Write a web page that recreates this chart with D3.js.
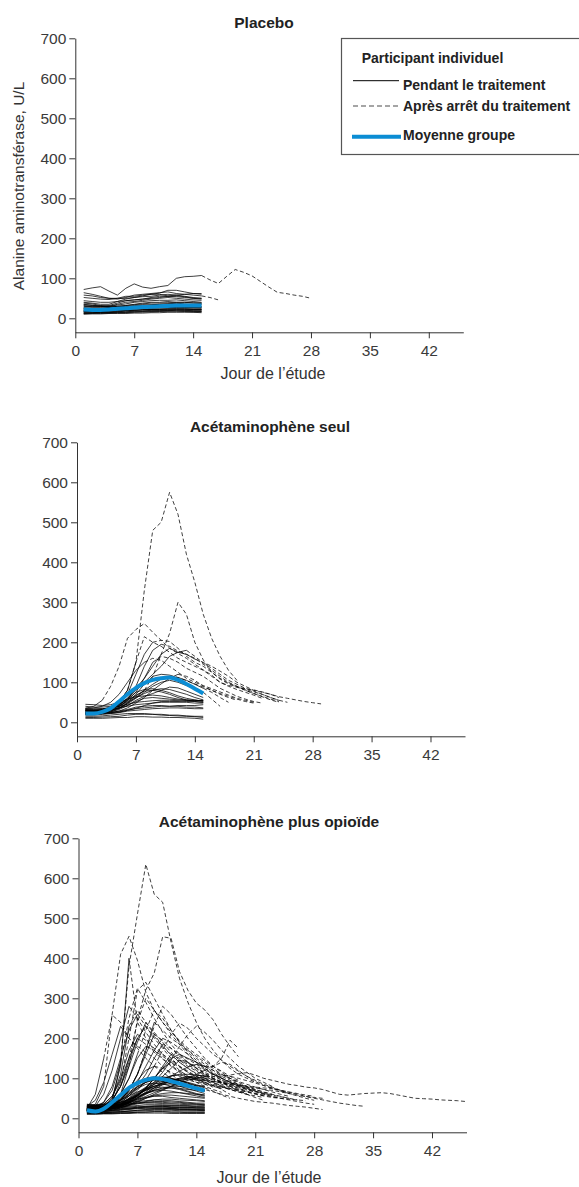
<!DOCTYPE html>
<html>
<head>
<meta charset="utf-8">
<script src="https://cdnjs.cloudflare.com/ajax/libs/d3/7.8.5/d3.min.js"></script>
<style>
  body { margin: 0; background: #fff; }
  svg { display: block; }
  text { font-family: "Liberation Sans", Arial, Helvetica, sans-serif; }
</style>
</head>
<body>
<div class="root"></div>
<script>
// axis ticks
const xTicks = [0, 7, 14, 21, 28, 35, 42];
const yTicks = [0, 100, 200, 300, 400, 500, 600, 700];

const titles = ['Placebo', 'Acétaminophène seul', 'Acétaminophène plus opioïde'];

// group means, days 1..15
const placeboMean = [22, 21, 21, 22, 24, 25, 27, 28, 29, 30, 31, 32, 32, 32, 32];
const acetMean = [22, 22, 26, 35, 52, 70, 86, 98, 106, 110, 112, 106, 96, 84, 72];
const comboMean = [20, 17, 24, 40, 58, 76, 88, 96, 100, 98, 93, 87, 81, 75, 69];

// individual participants: [last day on treatment, ALT from day 1 onward]
const placeboLines = [
  [15, [72, 76, 79, 68, 58, 75, 86, 78, 75, 79, 82, 100, 104, 105, 107, 96, 87, 105, 122, 115, 106, 92, 78, 65, 62, 58, 55, 50]],
  [15, [64, 60, 55, 50, 48, 52, 58, 60, 62, 64, 66, 62, 60, 58, 56, 52, 46]],
  [15, [58, 56, 52, 50, 50, 50, 52, 56, 60, 63, 70, 70, 66, 62, 60]],
  [15, [52, 50, 48, 47, 50, 55, 55, 58, 60, 60, 56, 58, 60, 62, 62]],
  [15, [40, 38, 35, 35, 42, 48, 52, 54, 55, 58, 60, 58, 55, 52, 50]],
  [15, [35, 33, 30, 32, 38, 44, 46, 48, 52, 55, 55, 56, 54, 50, 48]],
  [15, [38, 36, 32, 30, 35, 40, 42, 45, 48, 50, 52, 50, 48, 46, 45]],
  [15, [30, 28, 28, 30, 33, 36, 40, 42, 44, 45, 45, 46, 44, 42, 40]],
  [15, [28, 30, 30, 28, 30, 32, 35, 38, 40, 40, 42, 40, 40, 38, 38]],
  [15, [25, 24, 22, 24, 26, 28, 30, 32, 34, 35, 36, 36, 35, 34, 34]],
  [15, [22, 22, 24, 25, 24, 26, 28, 30, 30, 32, 32, 33, 32, 30, 30]],
  [15, [20, 18, 18, 20, 22, 24, 26, 26, 28, 28, 30, 30, 28, 28, 28]],
  [15, [18, 20, 20, 20, 22, 22, 24, 24, 25, 26, 26, 27, 26, 26, 25]],
  [15, [16, 16, 17, 18, 18, 20, 20, 22, 22, 22, 24, 24, 24, 23, 22]],
  [15, [14, 14, 15, 15, 16, 16, 18, 18, 20, 20, 20, 21, 20, 20, 20]],
  [15, [12, 12, 12, 13, 14, 14, 15, 16, 16, 17, 18, 18, 18, 17, 17]],
  [15, [10, 11, 11, 12, 12, 12, 13, 13, 14, 14, 15, 15, 15, 15, 14]],
  [15, [32, 30, 30, 28, 28, 30, 32, 34, 33, 35, 36, 38, 36, 35, 36]],
  [15, [26, 26, 26, 27, 28, 28, 27, 28, 30, 30, 28, 29, 30, 28, 28]],
  [15, [19, 19, 20, 20, 20, 20, 21, 21, 22, 22, 22, 22, 22, 22, 21]],
  [15, [24, 22, 21, 22, 22, 24, 24, 26, 26, 26, 27, 28, 27, 26, 26]],
  [15, [15, 15, 14, 14, 16, 18, 18, 18, 19, 19, 19, 20, 20, 19, 18]],
  [15, [44, 42, 40, 40, 42, 44, 46, 48, 50, 52, 55, 54, 52, 50, 50]],
  [15, [12, 13, 14, 14, 14, 15, 16, 16, 17, 18, 18, 18, 17, 16, 16]],
  [15, [34, 32, 31, 30, 30, 32, 34, 36, 38, 38, 39, 40, 40, 39, 38]],
  [15, [17, 17, 16, 17, 18, 19, 20, 21, 22, 23, 23, 24, 23, 22, 22]]
];

const acetLines = [
  [15, [15, 15, 16, 18, 20, 22, 22, 22, 20, 20, 18, 18, 16, 15, 15]],
  [15, [12, 12, 13, 14, 15, 18, 20, 20, 20, 18, 17, 16, 15, 14, 12]],
  [15, [10, 10, 10, 11, 12, 12, 14, 14, 13, 13, 12, 12, 11, 10, 8]],
  [15, [20, 20, 21, 22, 24, 28, 30, 32, 34, 35, 36, 36, 35, 34, 34]],
  [15, [25, 24, 24, 25, 28, 32, 38, 40, 42, 42, 40, 40, 38, 38, 36]],
  [15, [30, 30, 30, 32, 36, 40, 44, 46, 48, 50, 50, 50, 50, 48, 48]],
  [15, [35, 34, 34, 36, 40, 45, 50, 52, 54, 55, 55, 54, 52, 52, 50]],
  [15, [18, 18, 20, 22, 25, 30, 34, 36, 38, 40, 40, 42, 42, 42, 44]],
  [15, [22, 22, 22, 24, 26, 30, 35, 42, 48, 52, 52, 52, 54, 54, 55]],
  [15, [28, 26, 28, 30, 36, 42, 52, 60, 62, 60, 58, 56, 55, 55, 54]],
  [15, [40, 38, 38, 40, 46, 55, 68, 78, 80, 76, 70, 62, 56, 52, 50]],
  [15, [32, 30, 30, 34, 44, 58, 75, 82, 84, 80, 74, 66, 60, 56, 52]],
  [15, [24, 24, 25, 28, 35, 48, 62, 72, 80, 84, 82, 76, 70, 62, 56]],
  [15, [45, 44, 42, 44, 50, 58, 64, 66, 68, 66, 62, 58, 56, 55, 54]],
  [15, [20, 20, 22, 26, 32, 42, 55, 65, 72, 80, 88, 86, 78, 70, 62]],
  [6, [30, 28, 30, 36, 50, 80, 150, 330, 480, 500, 575, 520, 420, 350, 270, 210, 165, 130, 105]],
  [8, [28, 28, 30, 34, 40, 50, 62, 80, 114, 170, 222, 300, 270, 200, 156, 125, 108, 96, 88, 80, 72, 64, 56, 50]],
  [3, [35, 40, 55, 90, 140, 210, 232, 247, 225, 205, 185, 172, 160, 145, 131, 118, 100, 92, 88, 84, 81, 76, 70, 64, 60, 56, 52, 49, 46]],
  [7, [30, 30, 32, 38, 50, 80, 150, 214, 200, 190, 175, 160, 150, 140, 130, 115, 100, 90, 82, 75, 68, 60]],
  [9, [25, 26, 28, 32, 45, 70, 120, 170, 200, 205, 202, 185, 165, 150, 140, 125, 110, 98, 90, 82, 76, 70, 62, 55, 50]],
  [10, [22, 22, 24, 28, 38, 55, 90, 140, 180, 195, 190, 178, 170, 160, 145, 130, 115, 100, 90, 80, 72, 65, 58, 52]],
  [13, [28, 28, 30, 34, 42, 60, 85, 110, 140, 170, 185, 175, 180, 165, 148, 135, 120, 105, 95, 85, 78, 70, 62, 55]],
  [14, [30, 30, 32, 35, 45, 60, 80, 100, 120, 140, 165, 175, 170, 158, 150, 140, 128, 115, 100, 90, 80, 75, 70, 62]],
  [11, [20, 20, 22, 26, 34, 48, 70, 95, 115, 120, 118, 112, 104, 96, 88, 80, 72, 65, 58, 52, 48]],
  [8, [35, 36, 40, 50, 70, 100, 130, 150, 160, 155, 140, 125, 110, 100, 92, 84, 76, 68, 60, 55, 50]],
  [9, [25, 25, 28, 32, 40, 55, 75, 110, 150, 165, 160, 150, 135, 125, 115, 100, 85, 75, 65, 58, 52, 48]],
  [15, [26, 26, 28, 30, 36, 46, 60, 75, 90, 100, 105, 100, 92, 84, 75, 58, 40]],
  [15, [32, 32, 34, 36, 42, 52, 66, 80, 95, 108, 115, 112, 105, 95, 85, 75, 62, 50]],
  [12, [22, 22, 22, 24, 28, 36, 48, 62, 80, 96, 110, 120, 115, 105, 90, 80, 70, 62, 55]]
];

const comboLines = [
  [15, [12, 12, 12, 13, 14, 14, 15, 15, 16, 16, 15, 15, 14, 14, 14]],
  [15, [15, 14, 14, 15, 16, 18, 18, 19, 20, 20, 20, 19, 18, 18, 18]],
  [15, [18, 18, 18, 20, 22, 24, 25, 26, 26, 26, 25, 24, 24, 23, 22]],
  [15, [20, 20, 22, 24, 26, 28, 30, 30, 30, 30, 28, 28, 28, 26, 26]],
  [15, [25, 24, 24, 26, 28, 30, 32, 34, 34, 34, 33, 32, 32, 30, 30]],
  [15, [28, 28, 28, 30, 33, 36, 38, 40, 40, 40, 38, 38, 36, 35, 34]],
  [15, [32, 30, 30, 32, 35, 40, 42, 44, 46, 45, 44, 42, 40, 38, 38]],
  [15, [10, 10, 11, 11, 12, 12, 13, 13, 13, 13, 12, 12, 12, 12, 12]],
  [15, [22, 22, 22, 24, 24, 26, 27, 28, 28, 28, 27, 27, 26, 26, 26]],
  [15, [16, 16, 17, 18, 20, 22, 24, 25, 25, 25, 24, 22, 22, 21, 20]],
  [15, [35, 32, 30, 32, 36, 42, 48, 52, 55, 55, 52, 50, 48, 46, 44]],
  [15, [26, 25, 25, 27, 30, 34, 38, 42, 46, 48, 48, 46, 45, 44, 42]],
  [15, [14, 14, 15, 16, 17, 18, 20, 21, 22, 22, 22, 21, 20, 20, 19]],
  [15, [30, 30, 31, 32, 34, 36, 38, 38, 38, 37, 36, 35, 34, 33, 32]],
  [15, [19, 19, 20, 21, 23, 25, 28, 30, 31, 32, 32, 31, 30, 29, 28]],
  [15, [11, 11, 12, 12, 13, 14, 15, 16, 17, 17, 16, 16, 15, 15, 15]],
  [15, [17, 17, 18, 19, 21, 23, 26, 28, 30, 30, 29, 28, 27, 26, 25]],
  [15, [24, 23, 23, 25, 28, 32, 36, 40, 42, 42, 41, 40, 38, 36, 35]],
  [15, [13, 13, 14, 15, 16, 18, 20, 22, 24, 24, 24, 23, 22, 22, 21]],
  [15, [21, 21, 22, 24, 28, 34, 42, 50, 56, 58, 58, 56, 54, 52, 50]],
  [15, [33, 33, 34, 36, 40, 46, 54, 62, 68, 70, 68, 64, 60, 56, 52]],
  [15, [20, 20, 22, 26, 34, 46, 60, 70, 76, 78, 76, 72, 66, 60, 55]],
  [15, [25, 24, 26, 32, 44, 60, 75, 85, 88, 86, 80, 74, 68, 62, 58]],
  [15, [18, 18, 20, 24, 30, 40, 52, 62, 70, 76, 80, 80, 78, 74, 70]],
  [15, [30, 28, 30, 36, 48, 65, 80, 90, 95, 92, 86, 80, 74, 68, 62]],
  [15, [22, 22, 24, 28, 36, 48, 62, 75, 85, 92, 96, 94, 90, 84, 78]],
  [15, [28, 28, 30, 34, 40, 48, 56, 64, 70, 74, 76, 75, 72, 70, 68]],
  [15, [15, 15, 16, 20, 26, 34, 44, 52, 58, 62, 64, 64, 62, 60, 58]],
  [15, [35, 34, 36, 42, 55, 72, 90, 100, 104, 100, 94, 88, 82, 76, 70]],
  [15, [24, 24, 26, 30, 38, 50, 64, 78, 90, 100, 106, 108, 104, 98, 90, 82, 72, 60]],
  [15, [20, 20, 22, 25, 30, 38, 46, 55, 64, 72, 80, 88, 95, 100, 104, 100, 92, 80, 70, 60, 52, 45]],
  [15, [32, 32, 34, 38, 46, 56, 66, 74, 80, 84, 86, 86, 85, 82, 80]],
  [15, [26, 26, 28, 34, 46, 62, 78, 90, 98, 102, 100, 95, 88, 82, 76, 68, 58, 50]],
  [5, [22, 20, 24, 40, 140, 380, 510, 635, 560, 540, 440, 350, 290, 240, 200, 170, 145, 125, 110, 100, 90]],
  [3, [25, 35, 80, 260, 410, 455, 395, 315, 270, 240, 215, 195, 175, 160, 145, 130, 118, 105, 95]],
  [6, [20, 22, 26, 34, 60, 130, 246, 321, 363, 454, 450, 367, 320, 288, 271, 246, 210, 180, 154]],
  [6, [20, 22, 28, 50, 130, 400, 240, 200, 170, 150, 130, 115, 100, 90, 80, 72, 65]],
  [3, [25, 60, 150, 258, 240, 200, 180, 165, 150, 130, 110, 95, 85, 75, 68]],
  [5, [20, 20, 25, 40, 90, 200, 320, 340, 300, 260, 220, 190, 165, 145, 130, 115, 100, 90, 80, 72, 65]],
  [5, [28, 30, 40, 70, 140, 250, 325, 290, 250, 215, 185, 160, 140, 125, 110, 100, 90, 80]],
  [6, [22, 24, 30, 45, 80, 150, 240, 300, 270, 240, 210, 185, 160, 140, 125, 110, 95, 85, 75, 68]],
  [7, [18, 18, 22, 30, 45, 70, 110, 170, 230, 280, 260, 230, 200, 175, 150, 130, 115, 100, 90, 80, 72, 65, 60]],
  [7, [25, 26, 30, 40, 60, 100, 160, 220, 270, 250, 220, 190, 170, 150, 135, 120, 105, 95, 85, 78, 70]],
  [9, [22, 22, 24, 28, 36, 50, 70, 95, 130, 170, 210, 238, 225, 200, 180, 160, 145, 130, 118, 105, 95, 85, 78, 70, 62]],
  [11, [20, 20, 22, 26, 32, 42, 56, 72, 90, 115, 145, 180, 210, 230, 215, 195, 170, 150, 130, 115, 100, 90, 80]],
  [9, [24, 24, 28, 34, 46, 70, 110, 170, 240, 220, 200, 185, 170, 155, 140, 125, 110, 98, 88]],
  [6, [22, 24, 30, 50, 110, 230, 270, 240, 210, 180, 160, 140, 125, 110, 100, 90, 80, 72]],
  [7, [30, 30, 35, 55, 100, 170, 210, 195, 175, 160, 145, 130, 118, 105, 95, 85, 78, 72, 66, 60]],
  [10, [20, 20, 24, 30, 42, 60, 90, 130, 170, 200, 190, 175, 160, 140, 125, 112, 100, 90, 82, 75, 68, 62, 58]],
  [8, [26, 26, 30, 40, 60, 100, 150, 180, 170, 155, 140, 128, 115, 105, 95, 88, 80, 72, 66, 60, 56, 52]],
  [7, [22, 25, 40, 80, 150, 220, 260, 230, 200, 175, 150, 130, 115, 100, 90, 82, 75]],
  [6, [20, 30, 60, 120, 200, 280, 250, 215, 185, 160, 140, 120, 105, 95, 85, 78]],
  [8, [25, 25, 30, 45, 80, 130, 190, 240, 215, 190, 165, 145, 130, 118, 105, 95, 85, 78, 70]],
  [5, [30, 45, 90, 160, 230, 200, 175, 150, 130, 115, 100, 90, 82, 75]],
  [9, [20, 20, 24, 30, 45, 70, 110, 160, 210, 195, 175, 155, 140, 125, 112, 100, 90, 82, 75, 68, 62, 56]],
  [10, [22, 22, 25, 30, 40, 55, 80, 110, 150, 185, 175, 160, 148, 135, 122, 110, 100, 90, 82, 75, 68, 62, 58, 54, 50]],
  [12, [18, 18, 20, 24, 30, 38, 50, 66, 85, 105, 125, 145, 140, 130, 120, 110, 100, 92, 85, 78, 72, 66, 60, 55, 50, 46]],
  [8, [20, 22, 28, 45, 80, 140, 200, 230, 205, 180, 158, 140, 125, 112, 100, 90, 82, 75, 68, 62]],
  [7, [28, 30, 36, 55, 95, 150, 200, 185, 165, 148, 132, 118, 106, 96, 88, 80, 74]],
  [11, [22, 22, 24, 28, 34, 44, 58, 76, 100, 130, 160, 150, 138, 126, 115, 105, 96, 88, 80, 74, 68, 62]],
  [15, [20, 20, 22, 26, 32, 42, 56, 75, 100, 125, 150, 160, 150, 140, 130, 120, 110, 100, 92, 85, 78, 72, 66, 60, 55]],
  [15, [18, 18, 20, 22, 26, 32, 40, 50, 60, 70, 80, 90, 100, 110, 120, 130, 140, 135, 120, 105, 92, 82, 75, 68, 62, 56, 50, 45]],
  [15, [22, 22, 24, 28, 34, 44, 58, 72, 86, 98, 106, 110, 110, 108, 105, 104, 104, 108, 112, 114, 108, 100, 95, 90, 85, 82, 78, 76, 72, 66, 60, 58, 60, 62, 63, 64, 62, 58, 54, 50, 49, 48, 46, 45, 44, 42]],
  [15, [20, 20, 22, 24, 30, 40, 52, 64, 76, 86, 92, 96, 98, 96, 94, 92, 90, 88, 84, 80, 76, 72, 70, 66, 62, 58, 54, 50, 46, 42, 38, 35, 32, 30]],
  [13, [24, 24, 26, 30, 40, 56, 74, 90, 100, 104, 100, 95, 88, 80, 72, 66, 60, 55, 50, 46, 42, 40, 38, 35, 32, 30, 28, 25, 22]],
  [15, [22, 22, 24, 28, 36, 48, 60, 72, 80, 88, 95, 100, 102, 100, 96, 92, 88, 85, 82, 80, 78, 76, 74, 70, 66, 62, 58, 55]],
  [15, [20, 20, 22, 25, 30, 38, 48, 60, 72, 84, 94, 100, 104, 106, 108, 110, 108, 105, 100, 94, 88, 82, 76, 70, 65, 60, 55, 52, 50]],
  [15, [24, 24, 26, 30, 36, 46, 58, 70, 80, 88, 94, 98, 100, 102, 100, 96, 90, 84, 78, 72, 66, 60, 55, 50, 46, 42, 38, 35]],
  [9, [30, 30, 32, 38, 50, 70, 95, 120, 130, 125, 115, 105, 96, 90, 86, 82, 78, 74, 70, 66, 62, 58, 54, 50, 48, 46, 44]],
  [11, [18, 18, 20, 24, 30, 40, 56, 76, 100, 125, 140, 145, 135, 120, 108, 98, 88, 80, 72, 66, 60, 56, 52, 50]],
  [15, [20, 20, 22, 26, 32, 40, 50, 62, 76, 90, 105, 118, 128, 135, 130, 130, 150, 195, 175]]
];

const groups = [
  { lines: placeboLines, mean: placeboMean },
  { lines: acetLines, mean: acetMean },
  { lines: comboLines, mean: comboMean }
];

// where each panel sits on the page (pixels)
const frames = [
  { left: 75.3, zero: 318.3, titleX: 264, titleY: 28, xLabelX: 273, xLabelY: 378.5 },
  { left: 77, zero: 722.3, titleX: 270, titleY: 431.5, xLabelX: null },
  { left: 78.5, zero: 1118.3, titleX: 269, titleY: 827, xLabelX: 269, xLabelY: 1183 }
];

const W = 579, H = 1187;
const blue = '#0b8dd4';
const ink = '#333';

const svg = d3.select('.root').append('svg')
  .attr('width', W)
  .attr('height', H);

frames.forEach((f, i) => {
  const grp = groups[i];
  const x = d3.scaleLinear().domain([0, 46.1]).range([f.left, f.left + 388]);
  const y = d3.scaleLinear().domain([-35, 700]).range([f.zero + 14, f.zero - 280]);
  const g = svg.append('g');

  const yAxis = g.append('g')
    .attr('transform', `translate(${f.left},0)`)
    .call(d3.axisLeft(y).tickValues(yTicks).tickSize(6).tickPadding(3).tickSizeOuter(0));
  const xAxis = g.append('g')
    .attr('transform', `translate(0,${f.zero + 14})`)
    .call(d3.axisBottom(x).tickValues(xTicks).tickSize(6).tickPadding(7).tickSizeOuter(0));
  [yAxis, xAxis].forEach(a => {
    a.attr('color', ink)
      .attr('font-size', 15.5)
      .attr('font-family', '"Liberation Sans", Arial, sans-serif');
    a.selectAll('text').attr('fill', '#3a3a3a');
  });

  g.append('text')
    .attr('x', f.titleX)
    .attr('y', f.titleY)
    .attr('text-anchor', 'middle')
    .attr('font-size', 15.5)
    .attr('font-weight', 'bold')
    .attr('fill', '#222')
    .text(titles[i]);

  if (f.xLabelX) {
    g.append('text')
      .attr('x', f.xLabelX)
      .attr('y', f.xLabelY)
      .attr('text-anchor', 'middle')
      .attr('font-size', 16)
      .attr('fill', ink)
      .text('Jour de l’étude');
  }

  const line = d3.line().x(d => x(d[0])).y(d => y(d[1]));

  grp.lines.forEach(([stop, vals]) => {
    const pts = vals.map((v, k) => [k + 1, v]);
    const on = pts.filter(p => p[0] <= stop);
    const off = pts.filter(p => p[0] >= stop);
    g.append('path')
      .attr('d', line(on))
      .attr('fill', 'none')
      .attr('stroke', '#000')
      .attr('stroke-width', 0.75);
    if (off.length > 1) {
      g.append('path')
        .attr('d', line(off))
        .attr('fill', 'none')
        .attr('stroke', '#000')
        .attr('stroke-width', 0.75)
        .attr('stroke-dasharray', '4,2.5');
    }
  });

  g.append('path')
    .attr('d', d3.line().curve(d3.curveMonotoneX)
      .x((d, k) => x(k + 1)).y(d => y(d))(grp.mean))
    .attr('fill', 'none')
    .attr('stroke', blue)
    .attr('stroke-width', 4)
    .attr('stroke-linecap', 'butt');
});

// y-axis title (only on the first panel)
svg.append('text')
  .attr('transform', 'translate(24,186) rotate(-90)')
  .attr('text-anchor', 'middle')
  .attr('font-size', 15.5)
  .attr('fill', ink)
  .text('Alanine aminotransférase, U/L');

// legend
const lg = svg.append('g');
lg.append('rect')
  .attr('x', 341.5).attr('y', 38.5)
  .attr('width', 245).attr('height', 116)
  .attr('fill', '#fff')
  .attr('stroke', '#555')
  .attr('stroke-width', 1.2);
lg.append('text')
  .attr('x', 361.7).attr('y', 63.3)
  .attr('font-size', 14).attr('font-weight', 'bold').attr('fill', '#222')
  .text('Participant individuel');

const legendRows = [
  { label: 'Pendant le traitement', y: 80.7, ty: 90, stroke: '#000', width: 1, dash: null, x1: 353, x2: 399 },
  { label: 'Après arrêt du traitement', y: 106, ty: 111, stroke: '#888', width: 1.5, dash: '5,3', x1: 353, x2: 399 },
  { label: 'Moyenne groupe', y: 136.7, ty: 140, stroke: blue, width: 4, dash: null, x1: 352, x2: 401 }
];
legendRows.forEach(r => {
  lg.append('line')
    .attr('x1', r.x1).attr('x2', r.x2)
    .attr('y1', r.y).attr('y2', r.y)
    .attr('stroke', r.stroke)
    .attr('stroke-width', r.width)
    .attr('stroke-dasharray', r.dash);
  lg.append('text')
    .attr('x', 403).attr('y', r.ty)
    .attr('font-size', 14).attr('font-weight', 'bold').attr('fill', '#222')
    .text(r.label);
});
</script>
</body>
</html>
